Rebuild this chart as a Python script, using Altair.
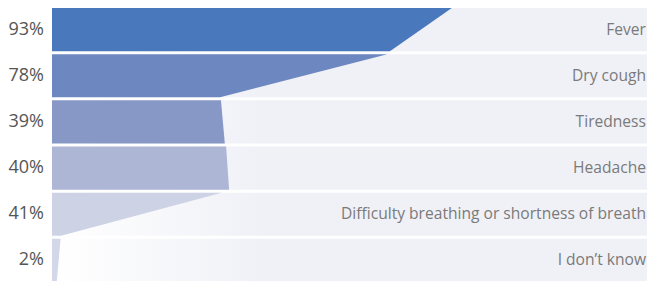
import altair as alt
import pandas as pd

labels = ["Fever", "Dry cough", "Tiredness", "Headache",
          "Difficulty breathing or shortness of breath", "I don\u2019t know"]
percents = [93, 78, 39, 40, 41, 2]
top_values = [93, 78, 39.3, 40.5, 39.5, 2.0]
bottom_values = [78.6, 39.1, 40.2, 41.2, 2.1, 1.1]
colors = ["#4a78bd", "#6d87c1", "#8798c7", "#adb6d5", "#cdd3e5", "#d3d8e8"]

X_MAX = 138.4
BAND = 0.935

rows = []
bg = []
txt = []
for i, lab in enumerate(labels):
    rows.append({"row": i, "y": i, "x": top_values[i]})
    rows.append({"row": i, "y": i + BAND, "x": bottom_values[i]})
    bg.append({"row": i, "y": i, "y2": i + BAND, "x": 0, "x2": X_MAX})
    txt.append({"row": i, "yc": i + BAND / 2, "label": lab, "pct": f"{percents[i]}%"})

shape_df = pd.DataFrame(rows)
bg_df = pd.DataFrame(bg)
txt_df = pd.DataFrame(txt)

xs = alt.Scale(domain=[0, X_MAX], nice=False, zero=False)
ys = alt.Scale(domain=[0, 6], reverse=True, nice=False, zero=False)

background = alt.Chart(bg_df).mark_rect(
    color=alt.Gradient(
        gradient="linear",
        stops=[alt.GradientStop(color="#ffffff", offset=0),
               alt.GradientStop(color="#f0f1f7", offset=0.35),
               alt.GradientStop(color="#f0f1f7", offset=1)],
        x1=0, x2=1, y1=0, y2=0,
    )
).encode(
    x=alt.X("x:Q", scale=xs, axis=None),
    x2="x2:Q",
    y=alt.Y("y:Q", scale=ys, axis=None),
    y2="y2:Q",
)

shapes = alt.Chart(shape_df).mark_area(orient="horizontal", opacity=1).encode(
    y=alt.Y("y:Q", scale=ys, axis=None),
    x=alt.X("x:Q", scale=xs, axis=None),
    x2=alt.datum(0),
    color=alt.Color("row:N", scale=alt.Scale(domain=list(range(6)), range=colors), legend=None),
    detail="row:N",
)

pct_text = alt.Chart(txt_df).mark_text(
    align="right", baseline="middle", font="Open Sans", fontSize=18, color="#555555"
).encode(
    x=alt.value(-8),
    y=alt.Y("yc:Q", scale=ys, axis=None),
    text="pct:N",
)

lab_text = alt.Chart(txt_df).mark_text(
    align="right", baseline="middle", font="Open Sans", fontSize=15.6, color="#7a7a7a"
).encode(
    x=alt.value(594),
    y=alt.Y("yc:Q", scale=ys, axis=None),
    text="label:N",
)

chart = alt.layer(background, shapes, pct_text, lab_text).properties(
    width=595, height=277,
    padding={"left": 44, "top": 0, "right": 0, "bottom": 0},
    autosize=alt.AutoSizeParams(type="none"),
).configure_view(stroke=None)

chart.save("out.html", embed_options={"renderer": "svg", "actions": False})
